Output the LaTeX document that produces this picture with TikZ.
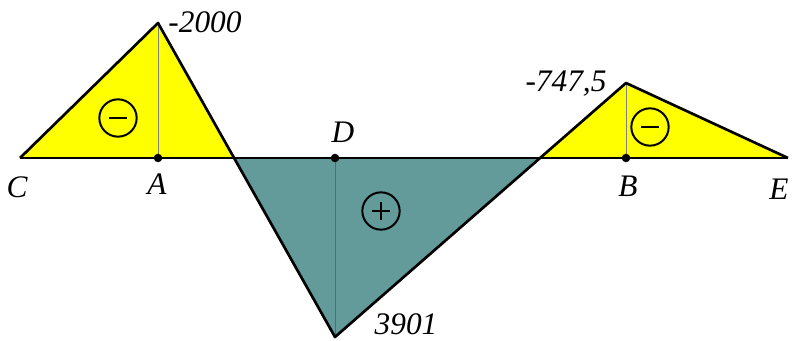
\documentclass[tikz,border=0pt]{standalone}
\usepackage{fontspec}
\setmainfont{Liberation Serif}
\definecolor{NegYellow}{HTML}{FFFF00}
\definecolor{PosTeal}{HTML}{639A9A}
\tikzset{
  outline/.style={draw=black,line width=2pt,line join=round},
  ordinate/.style={line width=0.7pt},
  signbox/.style={circle,draw,line width=1.5pt,minimum size=28pt,inner sep=0pt},
  bar/.style={line width=1.5pt},
  lab/.style={font=\fontsize{23.5}{28}\selectfont\itshape,inner sep=0pt},
}
\begin{document}
\begin{tikzpicture}[x=0.75pt,y=0.75pt]
\path[use as bounding box] (0,0) rectangle (792,340);
% points on the axis and the peaks
\coordinate (C) at (20,182);
\coordinate (A) at (158,182);
\coordinate (Z1) at (233,182);
\coordinate (D) at (335,182);
\coordinate (Z2) at (540,182);
\coordinate (B) at (626,182);
\coordinate (E) at (788,182);
\coordinate (pA) at (158,317);
\coordinate (pD) at (335,3);
\coordinate (pB) at (626,257);
% areas
\fill[NegYellow] (C) -- (pA) -- (Z1) -- cycle;
\fill[PosTeal] (Z1) -- (pD) -- (Z2) -- cycle;
\fill[NegYellow] (Z2) -- (pB) -- (E) -- cycle;
\draw[ordinate,gray] (A) -- (pA);
\draw[ordinate,black!60] (D) -- (pD);
\draw[ordinate,gray] (B) -- (pB);
\draw[outline] (C) -- (pA) -- (pD) -- (pB) -- (E);
\draw[outline] (C) -- (E);
\foreach \p in {A,D,B} {
  \fill (\p) circle (3.2pt);
}
% signs
\node[signbox] (sA) at (118,222) {};
\draw[bar] ([xshift=-6.5pt]sA.center) -- ([xshift=6.5pt]sA.center);
\node[signbox] (sD) at (381,129) {};
\draw[bar] ([xshift=-6.5pt]sD.center) -- ([xshift=6.5pt]sD.center);
\draw[bar] ([yshift=-6.5pt]sD.center) -- ([yshift=6.5pt]sD.center);
\node[signbox] (sB) at (650,213) {};
\draw[bar] ([xshift=-6.5pt]sB.center) -- ([xshift=6.5pt]sB.center);
% labels
\node[lab] (lC) at (17,153) {C};
\node[lab] (lA) at (157,156) {A};
\node[lab] (lD) at (343,208) {D};
\node[lab] (lB) at (628,154) {B};
\node[lab] (lE) at (779,151) {E};
\node[lab] (vA) at (205,318) {-2000};
\node[lab] (vB) at (566,256) {-747,5};
\node[lab] (vD) at (406,16) {3901};
\end{tikzpicture}
\end{document}
